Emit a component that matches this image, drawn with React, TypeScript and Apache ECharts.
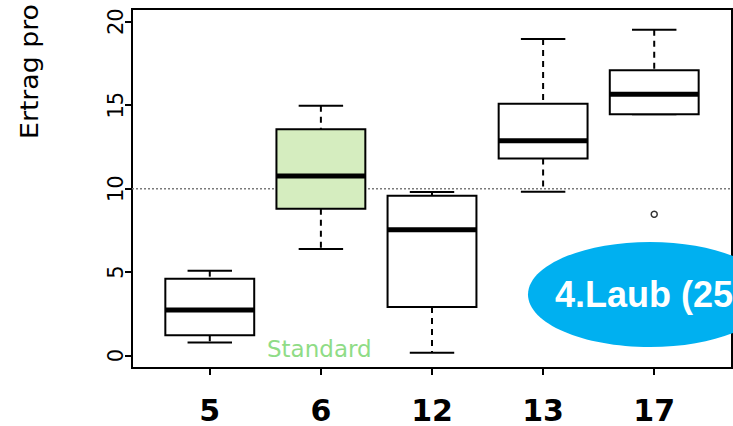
import React, { useEffect, useRef } from 'react';
import * as echarts from 'echarts';

const categories = ['5', '6', '12', '13', '17'];
const whiskerLow = [0.78, 6.39, 0.18, 9.82, 14.46];
const quartile1 = [1.22, 8.8, 2.92, 11.8, 14.46];
const medians = [2.74, 10.76, 7.54, 12.87, 15.65];
const quartile3 = [4.61, 13.56, 9.58, 15.09, 17.09];
const whiskerHigh = [5.09, 14.97, 9.8, 18.96, 19.52];
const boxFills = ['#ffffff', '#d5edbf', '#ffffff', '#ffffff', '#ffffff'];
const outlierCategories = ['17'];
const outlierValues = [8.47];
const yTicks = [0, 5, 10, 15, 20];
const referenceLevel = 10;
const yTitle = 'Ertrag pro';
const standardLabel = 'Standard';
const bubbleLabel = '4.Laub (25)';

export default function App() {
  const ref = useRef<HTMLDivElement>(null);
  useEffect(() => {
    if (!ref.current) return;
    const chart = echarts.init(ref.current, null, { renderer: 'svg' });
    const xPositions = categories.map((_, i) => i + 1);
    const boxData = categories.map((_, i) => [
      xPositions[i], whiskerLow[i], quartile1[i], medians[i], quartile3[i], whiskerHigh[i],
    ]);
    const outlierData = outlierCategories.map((c, i) => [categories.indexOf(c) + 1, outlierValues[i]]);
    const option: any = {
      animation: false,
      backgroundColor: '#ffffff',
      grid: {
        left: 132, top: 9, width: 600, height: 359,
        show: true, borderColor: '#000', borderWidth: 2, backgroundColor: 'transparent',
      },
      xAxis: {
        type: 'value', min: 0.3, max: 5.7,
        axisLine: { show: false, onZero: false },
        splitLine: { show: false },
        axisTick: { show: true, customValues: xPositions, length: 7, lineStyle: { color: '#000', width: 2 } },
        axisLabel: {
          customValues: xPositions,
          formatter: (v: number) => categories[Math.round(v) - 1] ?? '',
          margin: 27,
          fontFamily: 'DejaVu Sans', fontWeight: 'bold', fontSize: 30, color: '#000',
        },
      },
      yAxis: {
        type: 'value', min: -0.74, max: 20.76,
        axisLine: { show: false, onZero: false },
        splitLine: { show: false },
        axisTick: { show: true, customValues: yTicks, length: 7, lineStyle: { color: '#000', width: 2 } },
        axisLabel: {
          customValues: yTicks, rotate: 90, margin: 6,
          fontFamily: 'DejaVu Sans', fontSize: 21, color: '#000',
        },
      },
      series: [
        {
          type: 'line', z: 1, symbol: 'none', silent: true,
          data: [[0.3, referenceLevel], [5.7, referenceLevel]],
          lineStyle: { color: '#7a7a7a', width: 1.5, type: [2, 2] },
        },
        {
          type: 'custom', z: 2,
          data: boxData,
          encode: { x: 0, y: [1, 2, 3, 4, 5] },
          renderItem: (params: any, api: any) => {
            const x = api.value(0);
            const lo = api.coord([x, api.value(1)]);
            const b1 = api.coord([x, api.value(2)]);
            const m = api.coord([x, api.value(3)]);
            const b3 = api.coord([x, api.value(4)]);
            const hi = api.coord([x, api.value(5)]);
            const bw = api.size([0.8, 0])[0];
            const cw = api.size([0.4, 0])[0];
            const cx = lo[0];
            const dash = { stroke: '#000', lineWidth: 2, lineDash: [6, 5], fill: null };
            const solid = { stroke: '#000', lineWidth: 2, fill: null };
            return {
              type: 'group',
              children: [
                { type: 'line', shape: { x1: cx, y1: hi[1], x2: cx, y2: b3[1] }, style: dash },
                { type: 'line', shape: { x1: cx, y1: b1[1], x2: cx, y2: lo[1] }, style: dash },
                { type: 'line', shape: { x1: cx - cw / 2, y1: hi[1], x2: cx + cw / 2, y2: hi[1] }, style: solid },
                { type: 'line', shape: { x1: cx - cw / 2, y1: lo[1], x2: cx + cw / 2, y2: lo[1] }, style: solid },
                {
                  type: 'rect',
                  shape: { x: cx - bw / 2, y: b3[1], width: bw, height: b1[1] - b3[1] },
                  style: { fill: boxFills[params.dataIndex], stroke: '#000', lineWidth: 2 },
                },
                { type: 'line', shape: { x1: cx - bw / 2, y1: m[1], x2: cx + bw / 2, y2: m[1] }, style: { stroke: '#000', lineWidth: 5 } },
              ],
            };
          },
        },
        {
          type: 'scatter', z: 3, data: outlierData, symbol: 'circle', symbolSize: 6,
          itemStyle: { color: '#fff', borderColor: '#000', borderWidth: 1.5 },
        },
      ],
      graphic: [
        {
          type: 'text', x: 29, y: 139, rotation: Math.PI / 2, scaleX: 1.07,
          style: { text: yTitle, fontFamily: 'DejaVu Sans', fontSize: 25, fill: '#000', textAlign: 'left', textVerticalAlign: 'middle' },
        },
        {
          type: 'text', x: 267, y: 349,
          style: { text: standardLabel, fontFamily: 'DejaVu Sans', fontSize: 23, fill: '#8fdc86', textAlign: 'left', textVerticalAlign: 'middle' },
        },
        {
          type: 'ellipse', z: 10, shape: { cx: 650, cy: 294.5, rx: 122, ry: 52.5 },
          style: { fill: '#00b0f0' },
        },
        {
          type: 'text', z: 11, x: 650, y: 294,
          style: { text: bubbleLabel, fontFamily: 'Liberation Sans', fontWeight: 'bold', fontSize: 36, fill: '#fff', textAlign: 'center', textVerticalAlign: 'middle' },
        },
      ],
    };
    chart.setOption(option);
    return () => chart.dispose();
  }, []);
  return <div ref={ref} style={{ width: 733, height: 426, position: 'fixed', left: 0, top: 0 }} />;
}
